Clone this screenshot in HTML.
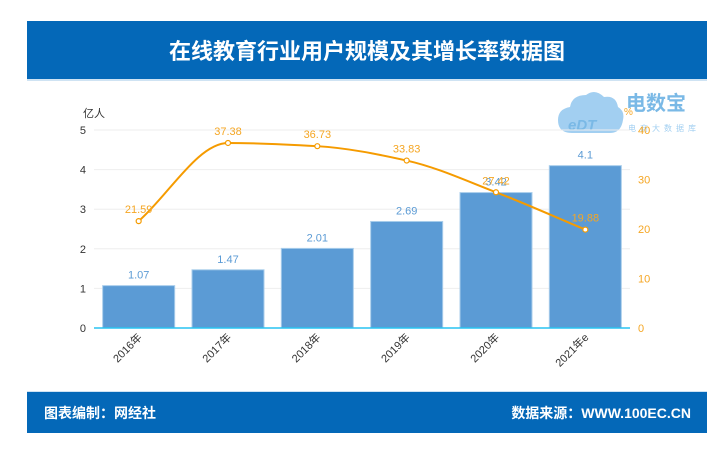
<!DOCTYPE html>
<html><head><meta charset="utf-8"><style>
body{margin:0;background:#fff;width:726px;height:445px;overflow:hidden;font-family:"Liberation Sans","Noto Sans CJK SC",sans-serif}
</style></head><body>
<svg width="726" height="445" viewBox="0 0 726 445" xmlns="http://www.w3.org/2000/svg" font-family="Liberation Sans, Noto Sans CJK SC, sans-serif">
<rect x="27" y="21" width="680" height="58" fill="#0468b8"/>
<rect x="27" y="79" width="680" height="2" fill="#cfe3f3"/>
<text x="367" y="59" text-anchor="middle" font-size="22" font-weight="bold" fill="#fff">在线教育行业用户规模及其增长率数据图</text>
<g id="logo" opacity="0.8">
<path d="M572 133 q-14 0 -14 -13 q0 -11 12 -13 q2 -12 16 -12 q9 -7 18 2 q12 -2 14 10 q7 4 5 13 q-2 13 -13 13 z" fill="#8cc4ee"/>
<text x="568" y="130" font-size="15" font-weight="bold" fill="#5aa8e0" font-style="italic">eDT</text>
<text x="626" y="110" font-size="20" font-weight="bold" fill="#5aa8e0">电数宝</text>
<text x="628" y="131" font-size="8" fill="#8cc4ee" letter-spacing="4">电商大数据库</text>
</g>
<g id="grid"></g>
<g id="bars"></g>
<g id="line"></g>
<g id="axes"></g>
<rect x="27" y="391" width="680" height="2" fill="#cfe3f3"/>
<rect x="27" y="392" width="680" height="41" fill="#0468b8"/>
<text x="44" y="418" font-size="14" font-weight="bold" fill="#fff">图表编制：网经社</text>
<text x="691" y="418" text-anchor="end" font-size="14" font-weight="bold" fill="#fff">数据来源：WWW.100EC.CN</text>
</svg>
<script>
const categories=["2016年","2017年","2018年","2019年","2020年","2021年e"];
const users=[1.07,1.47,2.01,2.69,3.42,4.1];
const growth=[21.59,37.38,36.73,33.83,27.42,19.88];
const leftTicks=[0,1,2,3,4,5];
const rightTicks=[0,10,20,30,40];
const NS="http://www.w3.org/2000/svg";
const X0=94,X1=630,Y0=328,Y1=130;
const band=(X1-X0)/categories.length;
const xc=i=>X0+band*(i+0.5);
const yL=v=>Y0-(v/5)*(Y0-Y1);
const yR=v=>Y0-(v/40)*(Y0-Y1);
function mk(tag,attrs,parent,txt){const e=document.createElementNS(NS,tag);for(const k in attrs)e.setAttribute(k,attrs[k]);if(txt!==undefined)e.textContent=txt;document.getElementById(parent).appendChild(e);return e;}
leftTicks.forEach(t=>{
 if(t>0){const g=mk('line',{x1:X0,x2:X1,y1:yL(t),y2:yL(t),stroke:'#eeeeee'},'grid');
 
 }
 const l=mk('text',{x:X0-8,y:yL(t)+4,'text-anchor':'end','font-size':11,fill:'#333'},'axes',String(t));
 
 
});
rightTicks.forEach(t=>{
 const l=mk('text',{x:X1+8,y:yR(t)+4,'font-size':11,fill:'#f5a623'},'axes',String(t));
 
 
});
const u=mk('text',{x:83,y:117,'font-size':11,fill:'#333'},'axes','亿人');


const p=mk('text',{x:624,y:115,'font-size':10,fill:'#f5a623'},'axes','%');


const bw=72;
users.forEach((v,i)=>{
 const r=mk('rect',{x:xc(i)-bw/2,y:yL(v),width:bw,height:Y0-yL(v),fill:'#5b9bd5',stroke:'#a8cdeb','stroke-width':1},'bars');
 
 
 const t=mk('text',{x:xc(i),y:yL(v)-7,'text-anchor':'middle','font-size':11,fill:'#5b9bd5'},'bars',String(v));
 
 
 const c=mk('text',{x:xc(i)+4,y:Y0+10,'text-anchor':'end','font-size':11,fill:'#333',transform:`rotate(-45 ${xc(i)+4} ${Y0+10})`},'axes',categories[i]);
 
 
});
const ax=mk('line',{x1:X0,x2:X1,y1:Y0,y2:Y0,stroke:'#29c4f2','stroke-width':1.5},'axes');


// monotone cubic line
const pts=growth.map((v,i)=>[xc(i),yR(v)]);
const n=pts.length,h=band;
const dk=[];for(let i=0;i<n-1;i++)dk.push((pts[i+1][1]-pts[i][1])/h);
const m=[];
for(let i=0;i<n;i++){
 if(i===0)m.push(dk[0]);else if(i===n-1)m.push(dk[n-2]);
 else m.push(dk[i-1]*dk[i]<=0?0:2/(1/dk[i-1]+1/dk[i]));
}
let d=`M${pts[0][0]},${pts[0][1]}`;
for(let i=0;i<n-1;i++){
 d+=` C${pts[i][0]+h/3},${pts[i][1]+m[i]*h/3} ${pts[i+1][0]-h/3},${pts[i+1][1]-m[i+1]*h/3} ${pts[i+1][0]},${pts[i+1][1]}`;
}
const ln=mk('path',{d:d,fill:'none',stroke:'#f59b00','stroke-width':2},'line');


growth.forEach((v,i)=>{
 const c=mk('circle',{cx:pts[i][0],cy:pts[i][1],r:2.5,fill:'#fff',stroke:'#f59b00','stroke-width':1.2},'line');
 
 
 const t=mk('text',{x:pts[i][0],y:pts[i][1]-8,'text-anchor':'middle','font-size':11,fill:'#f5a623'},'line',v.toFixed(2));
 
 
});
</script>
</body></html>
